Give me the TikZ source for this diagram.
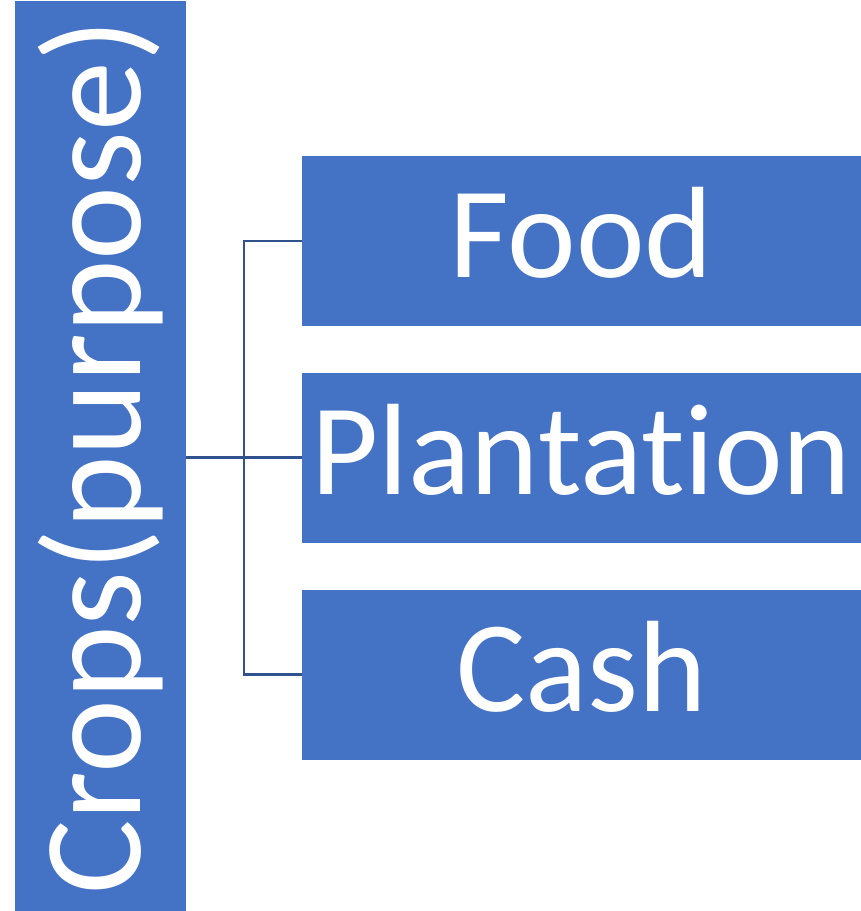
\documentclass[tikz,border=0pt]{standalone}
\usepackage{fontspec}
\setmainfont{Carlito}[Ligatures={NoCommon,NoDiscretionary}]
\usepackage{xcolor}
\usetikzlibrary{positioning}
\definecolor{boxblue}{HTML}{4472C4}
\definecolor{linkblue}{HTML}{2F528F}
\tikzset{
  block/.style={fill=boxblue, text=white, inner sep=0pt, align=center},
  rootbox/.style={block, rotate=90, minimum width=912pt, minimum height=171pt,
    font=\fontsize{140}{140}\selectfont, text height=105pt, text depth=25pt},
  leafbox/.style={block, minimum width=559pt, minimum height=170pt,
    font=\fontsize{130}{130}\selectfont, text height=97pt, text depth=23pt},
  link/.style={draw=linkblue, line width=2.4pt}
}

\begin{document}
\begin{tikzpicture}[x=1pt, y=1pt]
  \useasboundingbox (0,0) rectangle (861,-911);

  % rotated root, so its south side faces right
  \node[rootbox] (crops) at (100.5,-457) {Crops(purpose)};

  \node[leafbox] (food) at (581.5,-240.7) {Food};
  \node[leafbox, below=46.5pt of food] (plantation) {Plantation};
  \node[leafbox, below=46.5pt of plantation] (cash) {Cash};

  \draw[link] (plantation.west -| crops.south) -- (plantation.west);
  \draw[link] (food.west) -- ++(-58,0) |- (cash.west);
\end{tikzpicture}
\end{document}
